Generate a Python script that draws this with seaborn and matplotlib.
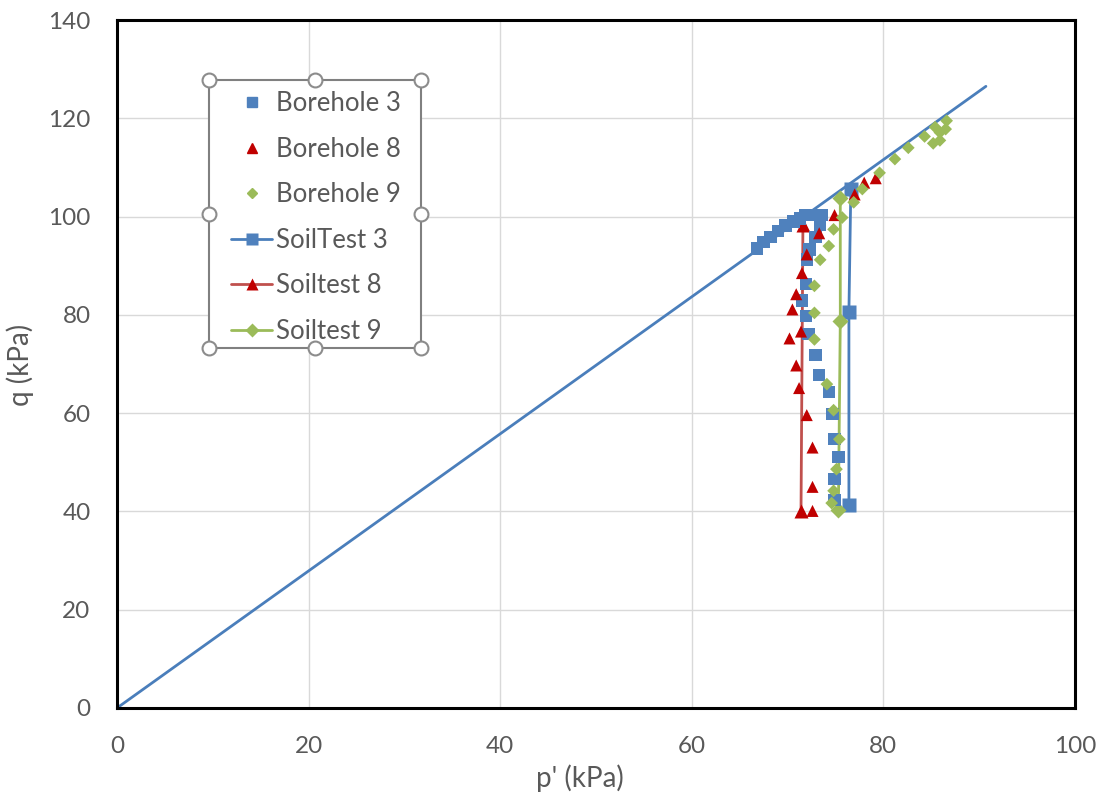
import numpy as np
import pandas as pd
import matplotlib
matplotlib.use("Agg")
import matplotlib.pyplot as plt
from matplotlib.lines import Line2D
from matplotlib.patches import Rectangle
import seaborn as sns

# ---- data ----
bh3_p = [66.8, 67.5, 68.2, 69.0, 69.8, 70.6, 71.3, 71.8, 72.7, 73.6, 73.4, 72.9, 72.3, 72.0,
         71.9, 71.5, 71.9, 72.2, 72.9, 73.3, 74.3, 74.7, 74.9, 75.3, 74.9, 74.9]
bh3_q = [93.5, 94.8, 95.9, 97.1, 98.2, 99.0, 99.6, 100.3, 100.3, 100.3, 98.3, 95.9, 93.3, 91.3,
         86.3, 82.9, 79.8, 76.1, 71.8, 67.8, 64.3, 59.8, 54.7, 51.1, 46.6, 42.3]

bh8_p = [79.2, 78.0, 77.0, 74.9, 73.3, 72.0, 71.5, 70.9, 70.5, 71.4, 70.2, 70.9, 71.2, 72.0,
         72.6, 72.6, 72.6]
bh8_q = [107.8, 106.9, 104.5, 100.3, 96.6, 92.3, 88.5, 84.2, 81.1, 76.6, 75.2, 69.7, 65.1, 59.6,
         53.0, 45.0, 40.1]

bh9_p = [86.6, 86.5, 85.9, 85.4, 84.3, 85.2, 85.9, 82.6, 81.2, 79.6, 77.8, 76.9, 75.7, 74.8,
         74.3, 73.4, 72.8, 72.8, 72.8, 74.1, 74.8, 75.4, 75.1, 74.8, 74.6]
bh9_q = [119.5, 117.8, 117.1, 118.2, 116.3, 114.9, 115.5, 114.0, 111.7, 108.9, 105.6, 102.9, 99.8, 97.4,
         94.0, 91.2, 85.9, 80.4, 75.0, 65.9, 60.6, 54.7, 48.6, 44.2, 41.7]

st3_p = [76.4, 76.4, 76.6]
st3_q = [41.4, 80.6, 105.6]

st8_p = [71.4, 71.6]
st8_q = [40.1, 98.2]

st9_p = [75.3, 75.5, 75.5]
st9_q = [40.3, 78.8, 103.8]

csl_p = [0.0, 90.7]
csl_q = [0.0, 126.5]

x_ticks = [0, 20, 40, 60, 80, 100]
y_ticks = [0, 20, 40, 60, 80, 100, 120, 140]

BLUE = "#4F81BD"
BLUE_LINE = "#4A7EBB"
RED = "#C00000"
RED_LINE = "#C0504D"
GREEN = "#9BBB59"
TXT = "#595959"

sns.set_theme(style="white")
plt.rcParams["font.family"] = ["Lato", "DejaVu Sans"]

FW, FH = 1105, 798
fig = plt.figure(figsize=(FW / 100, FH / 100), dpi=100)
ax = fig.add_axes([117 / FW, 90 / FH, 958 / FW, 688 / FH])

# critical state line
sns.lineplot(x=csl_p, y=csl_q, ax=ax, color=BLUE_LINE, linewidth=2, sort=False,
             estimator=None, legend=False, zorder=2)

# borehole scatters
sns.scatterplot(x=bh3_p, y=bh3_q, ax=ax, marker="s", color=BLUE, s=80,
                edgecolor="none", zorder=4, legend=False)
sns.scatterplot(x=bh8_p, y=bh8_q, ax=ax, marker="^", color=RED, s=75,
                edgecolor="none", zorder=4, legend=False)
sns.scatterplot(x=bh9_p, y=bh9_q, ax=ax, marker="D", color=GREEN, s=42,
                edgecolor="none", zorder=4, legend=False)

# soil test lines
sns.lineplot(x=st3_p, y=st3_q, ax=ax, color=BLUE_LINE, linewidth=2, marker="s",
             markersize=10, markerfacecolor=BLUE, markeredgecolor="none", sort=False,
             estimator=None, legend=False, zorder=3)
sns.lineplot(x=st8_p, y=st8_q, ax=ax, color=RED_LINE, linewidth=2, marker="^",
             markersize=10, markerfacecolor=RED, markeredgecolor="none", sort=False,
             estimator=None, legend=False, zorder=3)
sns.lineplot(x=st9_p, y=st9_q, ax=ax, color=GREEN, linewidth=2, marker="D",
             markersize=8, markerfacecolor=GREEN, markeredgecolor="none", sort=False,
             estimator=None, legend=False, zorder=3)

ax.set_xlim(0, 100)
ax.set_ylim(0, 140)
ax.set_xticks(x_ticks)
ax.set_yticks(y_ticks)
ax.grid(True, color="#D9D9D9", linewidth=1)
ax.set_axisbelow(True)
for s in ax.spines.values():
    s.set_color("black")
    s.set_linewidth(2.2)
ax.tick_params(axis="both", length=0, labelsize=17.5, colors=TXT)
ax.tick_params(axis="x", pad=20)
ax.tick_params(axis="y", pad=19)
ax.set_xlabel("p' (kPa)", fontsize=20, color=TXT)
ax.set_ylabel("q (kPa)", fontsize=20, color=TXT)
ax.xaxis.set_label_coords(0.483, (708 - 764) / 688)
ax.yaxis.set_label_coords((34 - 117) / 958, (708 - 365) / 688)

# legend box (drawn inside the axes, below the legend)
bx0, bx1, by_top, by_bot = 209, 421, 80, 348
ax.add_patch(Rectangle((bx0 / FW, (FH - by_bot) / FH), (bx1 - bx0) / FW,
                       (by_bot - by_top) / FH, transform=fig.transFigure,
                       facecolor="white", edgecolor="#808080", linewidth=1.5,
                       zorder=4.5, clip_on=False))

# legend (text + handles, frameless)
handles = [
    Line2D([], [], linestyle="none", marker="s", color=BLUE, markersize=7),
    Line2D([], [], linestyle="none", marker="^", color=RED, markersize=7),
    Line2D([], [], linestyle="none", marker="D", color=GREEN, markersize=5),
    Line2D([], [], color=BLUE_LINE, linewidth=2, marker="s", markersize=9,
           markerfacecolor=BLUE, markeredgecolor="none"),
    Line2D([], [], color=RED_LINE, linewidth=2, marker="^", markersize=9,
           markerfacecolor=RED, markeredgecolor="none"),
    Line2D([], [], color=GREEN, linewidth=2, marker="D", markersize=7,
           markeredgecolor="none"),
]
labels = ["Borehole 3", "Borehole 8", "Borehole 9", "SoilTest 3", "Soiltest 8", "Soiltest 9"]
leg = ax.legend(handles, labels, loc="upper left",
                bbox_to_anchor=((231 - 117) / 958, (708 - 91) / 688),
                borderaxespad=0, frameon=False, fontsize=18.5,
                labelspacing=0.8, handlelength=1.6, handletextpad=0.15,
                borderpad=0, labelcolor=TXT)
leg.set_zorder(6)

# selection handles around the legend box
xs = [bx0, (bx0 + bx1) / 2, bx1]
ys = [by_top, (by_top + by_bot) / 2, by_bot]
for i, xx in enumerate(xs):
    for j, yy in enumerate(ys):
        if i == 1 and j == 1:
            continue
        fig.add_artist(Line2D([xx / FW], [(FH - yy) / FH], transform=fig.transFigure,
                              marker="o", markersize=10, markerfacecolor="white",
                              markeredgecolor="#8C8C8C", markeredgewidth=1.5,
                              linestyle="none", zorder=10))

fig.savefig("out.png", dpi=100)
